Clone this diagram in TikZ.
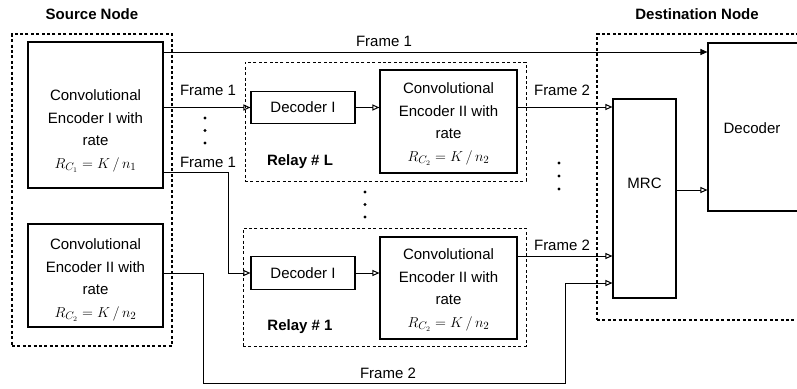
\documentclass[tikz,border=0pt]{standalone}
\usepackage{fontspec}
\setmainfont{Liberation Sans}
\usetikzlibrary{arrows.meta,calc}
\tikzset{
  blk/.style={draw, line width=1.1pt, rectangle, inner sep=0pt},
  grp/.style={draw, line width=1.2pt, dash pattern=on 3pt off 2.4pt, rectangle, inner sep=0pt},
  rgrp/.style={draw, line width=1pt, dash pattern=on 3pt off 2.4pt, rectangle, inner sep=0pt},
  txt/.style={font=\fontsize{15}{22.5}\selectfont, align=center, inner sep=0pt},
  lbl/.style={font=\fontsize{15}{18}\selectfont\bfseries, inner sep=0pt},
  conn/.style={line width=1pt},
  arr/.style={conn, -{Triangle[open,length=7pt,width=6pt]}},
  arrf/.style={conn, -{Triangle[length=7pt,width=6pt]}},
  dotf/.style={fill=black}
}
\begin{document}
\begin{tikzpicture}[x=1pt,y=-1pt]
\useasboundingbox (0,0) rectangle (797,388);
% groups
\node[grp, minimum width=160pt, minimum height=312pt] (src) at (92,190) {};
\node[rgrp, minimum width=281pt, minimum height=119pt] (relayL) at (385.5,121.5) {};
\node[rgrp, minimum width=283pt, minimum height=118pt] (relayA) at (384.5,287) {};
\node[grp, minimum width=212pt, minimum height=286pt] (dest) at (703,177) {};
% titles
\node[lbl] (srcT) at (92,14) {Source Node};
\node[lbl] (destT) at (697,14) {Destination Node};
\node[lbl] (relayLT) at (300,162) {Relay \# L};
\node[lbl] (relayAT) at (300,327) {Relay \# 1};
% source blocks
\node[blk, minimum width=135pt, minimum height=146pt] (encI) at (95.5,115) {};
\node[txt] (encIt) at (95.5,131) {Convolutional\\Encoder I with\\rate\\$R_{C_1}=K\,/\,n_1$};
\node[blk, minimum width=135pt, minimum height=103pt] (encIIs) at (95.5,275.5) {};
\node[txt] (encIIst) at (95.5,280) {Convolutional\\Encoder II with\\rate\\$R_{C_2}=K\,/\,n_2$};
% relay L
\node[blk, txt, minimum width=104pt, minimum height=32pt] (decIL) at (303,107.5) {Decoder I};
\node[blk, minimum width=137pt, minimum height=103pt] (encIIL) at (448.5,121.5) {};
\node[txt] (encIILt) at (448.5,124) {Convolutional\\Encoder II with\\rate\\$R_{C_2}=K\,/\,n_2$};
% relay 1
\node[blk, txt, minimum width=104pt, minimum height=33pt] (decIA) at (303,273) {Decoder I};
\node[blk, minimum width=137pt, minimum height=102pt] (encIIA) at (448.5,288) {};
\node[txt] (encIIAt) at (448.5,290) {Convolutional\\Encoder II with\\rate\\$R_{C_2}=K\,/\,n_2$};
% destination
\node[blk, minimum width=63pt, minimum height=199pt] (mrc) at (644.5,198.5) {};
\node[txt] (mrct) at (644.5,183) {MRC};
\node[blk, minimum width=92pt, minimum height=168pt] (dec) at (754,127) {};
\node[txt] (dect) at (752,128) {Decoder};
% connectors
\draw[arrf] (encI.east |- 0,52) -- (dec.west |- 0,52);
\draw[arr] (encI.east |- decIL.west) -- (decIL.west);
\draw[arr] (encI.east |- 0,172) -- (228,172) |- (decIA.west);
\draw[arr] (decIL.east) -- (encIIL.west |- decIL.east);
\draw[arr] (decIA.east) -- (encIIA.west |- decIA.east);
\draw[arr] (encIIL.east |- 0,107) -- (mrc.west |- 0,107);
\draw[arr] (encIIA.east |- 0,256) -- (mrc.west |- 0,256);
\draw[arr] (encIIs.east |- 0,273) -- (203,273) |- (565,383) |- (mrc.west |- 0,283);
\draw[arr] (mrc.east |- 0,190) -- (dec.west |- 0,190);
% connector labels
\node[txt] (f1a) at (384,41) {Frame 1};
\node[txt] (f1b) at (208,90) {Frame 1};
\node[txt] (f1c) at (208,162) {Frame 1};
\node[txt] (f2a) at (562,90) {Frame 2};
\node[txt] (f2b) at (562,245) {Frame 2};
\node[txt] (f2c) at (388,373) {Frame 2};
% dots
\foreach \y in {118,130.5,143} \fill[dotf] (205,\y) circle (1.6pt);
\foreach \y in {192,204.5,217} \fill[dotf] (365,\y) circle (1.6pt);
\foreach \y in {163,176,189} \fill[dotf] (559,\y) circle (1.6pt);
\end{tikzpicture}
\end{document}
